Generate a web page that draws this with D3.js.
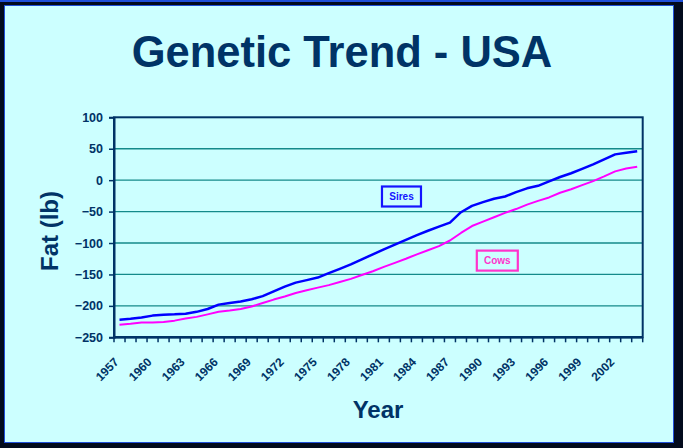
<!DOCTYPE html>
<html>
<head>
<meta charset="utf-8">
<script src="https://cdn.jsdelivr.net/npm/d3@7/dist/d3.min.js"></script>
<style>
  html, body { margin: 0; padding: 0; background: #000; }
  svg { display: block; }
  text { font-family: "Liberation Sans", Arial, Helvetica, sans-serif; font-weight: bold; }
</style>
</head>
<body>
<svg id="chart" width="683" height="448"></svg>
<script>
// Genetic trend for fat (lb), USA, by birth year
const years = d3.range(1957, 2005);
const siresFat = [
  -222, -220.5, -218.5, -215.5, -214, -213.5, -212.5, -209.5, -205, -198,
  -195.5, -193, -189.5, -184.5, -177, -169.5, -163, -159, -155, -148,
  -141, -134, -126, -118, -110, -102.5, -95, -87.5, -80.5, -74,
  -67.5, -51, -41, -35, -29.5, -26, -19, -13, -9, -2,
  5, 11, 18, 25, 33, 41, 43.5, 46
];
const cowsFat = [
  -230, -228.5, -226.5, -226.5, -225.5, -223.5, -220, -217.5, -213.5, -209.5,
  -207.5, -205, -201, -195.5, -190, -185, -179.5, -175, -171, -167,
  -162, -157, -151, -145, -138, -131.5, -125, -118, -111.5, -105,
  -96, -84, -73, -66, -59, -52, -46, -39, -33, -27.5,
  -20, -14.5, -8, -1.5, 6, 14, 18.5, 21.5
];
const yTicks = [100, 50, 0, -50, -100, -150, -200, -250];
const yGrid = [50, 0, -50, -100, -150, -200];
const xLabelYears = d3.range(1957, 2003, 3);

const ink = "#003366";
const svg = d3.select("#chart");

// Slide frame: dark edge with a light cyan panel
svg.append("rect").attr("x", 0).attr("y", 0).attr("width", 683).attr("height", 448).attr("fill", "#020a1c");
svg.append("rect").attr("x", 0).attr("y", 0).attr("width", 683).attr("height", 2).attr("fill", "#1f4fd8");
svg.append("rect").attr("x", 4.5).attr("y", 5.5).attr("width", 669).attr("height", 437)
  .attr("fill", "#ccffff").attr("stroke", "#1f4fd8").attr("stroke-width", 1);

svg.append("text").attr("x", 342).attr("y", 67).attr("text-anchor", "middle")
  .attr("font-size", 43.5).attr("fill", ink).text("Genetic Trend - USA");

const plotLeft = 114, plotRight = 642.7, plotTop = 117.3, plotBottom = 337.3;

const x = d3.scaleBand().domain(years).range([plotLeft, plotRight]).padding(0);
const y = d3.scaleLinear().domain([-250, 100]).range([plotBottom, plotTop]);
const cx = d => x(d) + x.bandwidth() / 2;
// continuous year position (category centres) for placing annotations
const xYear = d3.scaleLinear().domain([1957, 2004]).range([cx(1957), cx(2004)]);

// Horizontal gridlines
svg.append("g").selectAll("line").data(yGrid).join("line")
  .attr("x1", plotLeft).attr("x2", plotRight)
  .attr("y1", d => y(d)).attr("y2", d => y(d))
  .attr("stroke", "#148a8a").attr("stroke-width", 1.3);

// Plot border
svg.append("rect").attr("x", plotLeft).attr("y", plotTop)
  .attr("width", plotRight - plotLeft).attr("height", plotBottom - plotTop)
  .attr("fill", "none").attr("stroke", ink).attr("stroke-width", 2);

// Y axis
const yAxis = svg.append("g").attr("transform", `translate(${plotLeft},0)`)
  .call(d3.axisLeft(y).tickValues(yTicks).tickSize(5).tickPadding(6).tickFormat(d3.format("d")));
yAxis.select(".domain").attr("stroke", ink).attr("stroke-width", 2);
yAxis.selectAll(".tick line").attr("stroke", ink).attr("stroke-width", 1.5);
yAxis.selectAll(".tick text").attr("fill", ink).attr("font-size", 12.5)
  .attr("font-family", "Liberation Sans, Arial, sans-serif").attr("font-weight", "bold");

// X axis: ticks between categories
const boundaries = years.map(d => x(d)).concat([plotRight]);
svg.append("g").selectAll("line").data(boundaries).join("line")
  .attr("x1", d => d).attr("x2", d => d)
  .attr("y1", plotBottom).attr("y2", plotBottom + 5)
  .attr("stroke", ink).attr("stroke-width", 1.5);
svg.append("line").attr("x1", plotLeft).attr("x2", plotRight).attr("y1", plotBottom).attr("y2", plotBottom)
  .attr("stroke", ink).attr("stroke-width", 2.5);

svg.append("g").selectAll("text").data(xLabelYears).join("text")
  .attr("transform", d => `translate(${cx(d)},${plotBottom + 25.5}) rotate(-45)`)
  .attr("text-anchor", "end").attr("font-size", 12).attr("fill", ink)
  .text(d => d);

// Axis titles
svg.append("text").attr("transform", "translate(58,231) rotate(-90)")
  .attr("text-anchor", "middle").attr("font-size", 24).attr("fill", ink).text("Fat (lb)");
svg.append("text").attr("x", 378).attr("y", 418).attr("text-anchor", "middle")
  .attr("font-size", 24).attr("fill", ink).text("Year");

// Trend lines
const line = d3.line().x((d, i) => cx(years[i])).y(d => y(d));
svg.append("path").datum(cowsFat).attr("d", line)
  .attr("fill", "none").attr("stroke", "#ff00ff").attr("stroke-width", 2).attr("stroke-linejoin", "round");
svg.append("path").datum(siresFat).attr("d", line)
  .attr("fill", "none").attr("stroke", "#0000ff").attr("stroke-width", 2.5).attr("stroke-linejoin", "round");

// Series labels in boxes
function boxLabel(year, value, w, h, text, color) {
  const px = xYear(year), py = y(value);
  const g = svg.append("g");
  g.append("rect").attr("x", px - w / 2).attr("y", py - h / 2).attr("width", w).attr("height", h)
    .attr("fill", "none").attr("stroke", color).attr("stroke-width", 2.2);
  g.append("text").attr("x", px).attr("y", py + 3.5).attr("text-anchor", "middle")
    .attr("font-size", 10).attr("fill", color).text(text);
}
boxLabel(1982.6, -26, 39, 20, "Sires", "#1414ff");
boxLabel(1991.3, -128, 41, 20, "Cows", "#ff33cc");
</script>
</body>
</html>
